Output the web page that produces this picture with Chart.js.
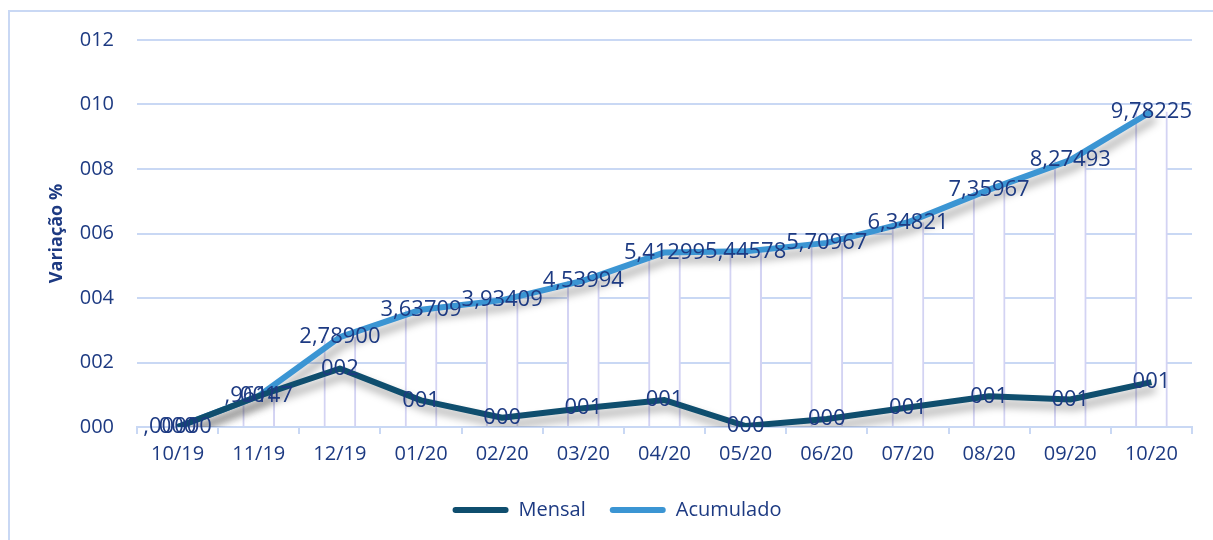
<!DOCTYPE html>
<html lang="pt-BR">
<head>
  <meta charset="UTF-8">
  <title>Variação % - Mensal e Acumulado</title>
  <script src="https://cdn.jsdelivr.net/npm/chart.js"></script>
  <style>
    body { margin: 0; background: #fff; }
    #wrap { position: relative; width: 1213px; height: 540px; }
  </style>
</head>
<body>
  <div id="wrap"><canvas id="chart" width="1213" height="540"></canvas></div>

  <script>
    const meses = ['10/19', '11/19', '12/19', '01/20', '02/20', '03/20', '04/20',
                   '05/20', '06/20', '07/20', '08/20', '09/20', '10/20'];
    const mensal = [0, 0.96147, 1.81, 0.825, 0.287, 0.583, 0.835, 0.031, 0.250, 0.604, 0.951, 0.853, 1.392];
    const acumulado = [0, 0.96147, 2.78900, 3.63709, 3.93409, 4.53994, 5.41299,
                       5.44578, 5.70967, 6.34821, 7.35967, 8.27493, 9.78225];
    const yTicks = [0, 2, 4, 6, 8, 10, 12];

    const navy = '#1D3A82';
    const gridColor = '#C9D8F4';
    const font = 'Open Sans';

    // borda do gráfico (só esquerda e topo aparecem no recorte)
    const frame = {
      id: 'frame',
      beforeDraw(chart) {
        const c = chart.ctx;
        c.save();
        c.strokeStyle = gridColor;
        c.lineWidth = 2;
        c.strokeRect(9, 11, 1400, 700);
        c.restore();
      }
    };

    // sombra nas linhas
    const shadow = {
      id: 'shadow',
      beforeDatasetDraw(chart, args) {
        if (args.meta.type !== 'line') return;
        const c = chart.ctx;
        c.save();
        c.shadowColor = 'rgba(0,0,0,0.35)';
        c.shadowBlur = 8;
        c.shadowOffsetX = 4;
        c.shadowOffsetY = 7;
      },
      afterDatasetDraw(chart, args) {
        if (args.meta.type !== 'line') return;
        chart.ctx.restore();
      }
    };

    const fmtMensal = v => String(Math.round(v)).padStart(3, '0');
    const fmtAcum = v => v.toFixed(5).replace('.', ',').replace(/^0/, '');

    const rotulos = {
      id: 'rotulos',
      afterDatasetsDraw(chart) {
        const c = chart.ctx;
        c.save();
        c.font = '22px "' + font + '"';
        c.fillStyle = navy;
        c.textAlign = 'center';
        c.textBaseline = 'middle';
        [1, 0].forEach(i => {
          const meta = chart.getDatasetMeta(i);
          const fmt = i === 0 ? fmtMensal : fmtAcum;
          meta.data.forEach((pt, j) => {
            c.fillText(fmt(chart.data.datasets[i].data[j]), pt.x, pt.y);
          });
        });
        c.restore();
      }
    };

    new Chart(document.getElementById('chart'), {
      type: 'line',
      data: {
        labels: meses,
        datasets: [
          {
            label: 'Mensal',
            data: mensal,
            borderColor: '#0F4E6E',
            backgroundColor: '#0F4E6E',
            borderWidth: 6,
            pointRadius: 0,
            tension: 0,
            borderJoinStyle: 'round',
            order: 1
          },
          {
            label: 'Acumulado',
            data: acumulado,
            borderColor: '#3B95D3',
            backgroundColor: '#3B95D3',
            borderWidth: 6,
            pointRadius: 0,
            tension: 0,
            borderJoinStyle: 'round',
            order: 2
          },
          {
            type: 'bar',
            label: 'linhas',
            data: acumulado,
            backgroundColor: '#ffffff',
            borderColor: '#D3D3F3',
            borderWidth: { left: 2, right: 2, top: 0, bottom: 0 },
            borderSkipped: false,
            barThickness: 32,
            order: 3
          }
        ]
      },
      options: {
        responsive: false,
        animation: false,
        layout: { padding: { top: 40, right: 21, bottom: 10, left: 42 } },
        scales: {
          x: {
            offset: true,
            grid: { offset: true, drawOnChartArea: false, tickLength: 7, color: gridColor, lineWidth: 2 },
            border: { color: gridColor, width: 2 },
            ticks: { color: navy, font: { family: font, size: 20 }, padding: 8, maxRotation: 0 },
            afterFit(s) { s.height = 49; }
          },
          y: {
            min: 0,
            max: 12,
            afterBuildTicks(s) { s.ticks = yTicks.map(v => ({ value: v })); },
            grid: { color: gridColor, lineWidth: 2, drawTicks: false },
            border: { display: false },
            ticks: { color: navy, font: { family: font, size: 20 }, padding: 23, callback: v => fmtMensal(v) },
            title: {
              display: true,
              text: 'Variação %',
              color: navy,
              font: { family: font, size: 18, weight: 'bold' },
              padding: { top: 4, bottom: 0 }
            },
            afterFit(s) { s.width = 95; }
          }
        },
        plugins: {
          legend: {
            position: 'bottom',
            labels: {
              color: navy,
              font: { family: font, size: 20 },
              boxWidth: 56,
              boxHeight: 6,
              useBorderRadius: true,
              borderRadius: 3,
              padding: 24,
              filter: item => item.datasetIndex < 2,
              generateLabels: chart => Chart.defaults.plugins.legend.labels.generateLabels(chart)
                .map(l => Object.assign(l, { lineWidth: 0 }))
            }
          },
          tooltip: { enabled: false }
        }
      },
      plugins: [frame, shadow, rotulos]
    });
  </script>
</body>
</html>
